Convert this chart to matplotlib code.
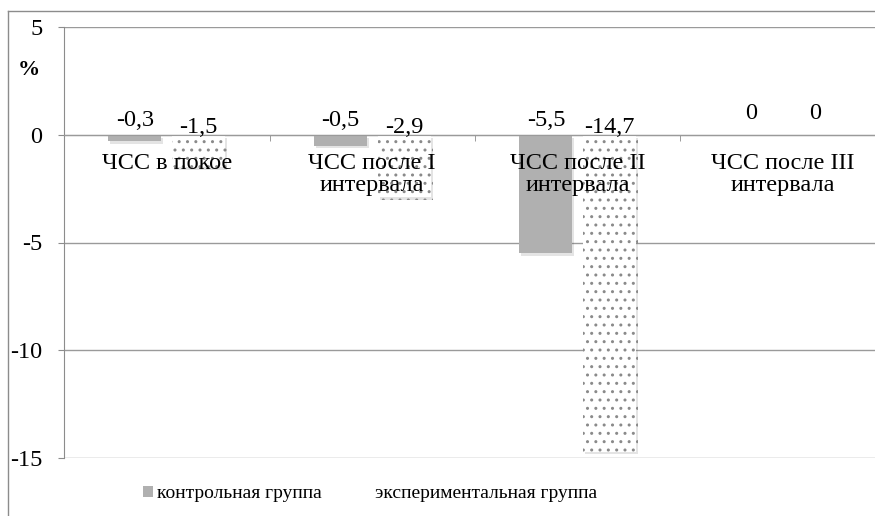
import matplotlib.pyplot as plt
import matplotlib.patheffects as pe
from matplotlib.patches import Patch
from matplotlib.lines import Line2D
import numpy as np

plt.rcParams['font.family'] = ['Liberation Serif', 'DejaVu Serif']

# данные
categories = ['ЧСС в покое', 'ЧСС после I\nинтервала', 'ЧСС после II\nинтервала', 'ЧСС после III\nинтервала']
control = [-0.3, -0.5, -5.5, 0]
experimental = [-1.5, -2.9, -14.7, 0]
control_labels = ['-0,3', '-0,5', '-5,5', '0']
exp_labels = ['-1,5', '-2,9', '-14,7', '0']
series_names = ['контрольная группа', 'экспериментальная группа']
yticks = [5, 0, -5, -10, -15]

W, H = 875, 516
FS = 17.5
fig = plt.figure(figsize=(W / 100, H / 100), dpi=100)
ax = fig.add_axes([64 / W, 1 - 458 / H, 822 / W, 431 / H])

# внешняя рамка диаграммы
fig.add_artist(Line2D([8 / W, 8 / W], [0, 1 - 11 / H], color='#8c8c8c', lw=1, transform=fig.transFigure))
fig.add_artist(Line2D([8 / W, 1], [1 - 11 / H, 1 - 11 / H], color='#8c8c8c', lw=1, transform=fig.transFigure))

x = np.arange(len(categories))
bw = 0.258
off = 0.155

shadow = [pe.SimplePatchShadow(offset=(1.5, -2), alpha=0.15, shadow_rgbFace='#505050'), pe.Normal()]
ax.bar(x - off, control, bw, color='#b0b0b0', linewidth=0, zorder=3, path_effects=shadow)
ax.bar(x + off, experimental, bw, color='white', edgecolor='#8a8a8a', hatch='..', linewidth=0,
       zorder=3, path_effects=shadow)

# подписи данных (пиксели -> пункты: *0.72)
for i in range(len(categories)):
    d1 = 9 if control[i] != 0 else 16
    d2 = 1.5 if experimental[i] != 0 else 16
    ax.annotate(control_labels[i], (x[i] - off, 0), xytext=(0, d1 * 0.72), textcoords='offset points',
                ha='center', va='baseline', fontsize=FS, zorder=5)
    ax.annotate(exp_labels[i], (x[i] + off, 0), xytext=(0, d2 * 0.72), textcoords='offset points',
                ha='center', va='baseline', fontsize=FS, zorder=5)
    ax.annotate(categories[i], (x[i], 0), xytext=(0, -13), textcoords='offset points',
                ha='center', va='top', fontsize=FS, linespacing=1.1, zorder=6)

ax.set_xlim(-0.5, 3.5)
ax.set_ylim(-15, 5)
ax.set_yticks(yticks)
ax.set_yticklabels([str(t) for t in yticks], fontsize=FS)
ax.yaxis.grid(True, color='#9a9a9a', lw=1)
ax.set_axisbelow(True)
ax.tick_params(axis='y', length=4.5, color='#8c8c8c', pad=11, direction='out')

ax.spines['top'].set_visible(False)
ax.spines['right'].set_visible(False)
ax.spines['left'].set_color('#8c8c8c')
ax.spines['bottom'].set_position(('data', 0))
ax.spines['bottom'].set_color('#9a9a9a')
ax.spines['bottom'].set_zorder(4)
ax.set_xticks([])
ax.set_xticks([0.5, 1.5, 2.5], minor=True)
ax.tick_params(axis='x', which='minor', length=4, color='#8c8c8c', direction='out')

fig.text(29 / W, 1 - 70 / H, '%', fontsize=16, fontweight='bold', ha='center', va='center')

handles = [Patch(facecolor='#b0b0b0', edgecolor='none'),
           Patch(facecolor='white', edgecolor='#b0b0b0', hatch='.', linewidth=0)]
fig.legend(handles, series_names, loc='center', bbox_to_anchor=(370 / W, 1 - 494 / H), ncol=2,
           frameon=False, fontsize=14, handlelength=0.55, handleheight=0.55, handletextpad=0.2,
           columnspacing=2.0)

fig.savefig('out.png', dpi=100)
